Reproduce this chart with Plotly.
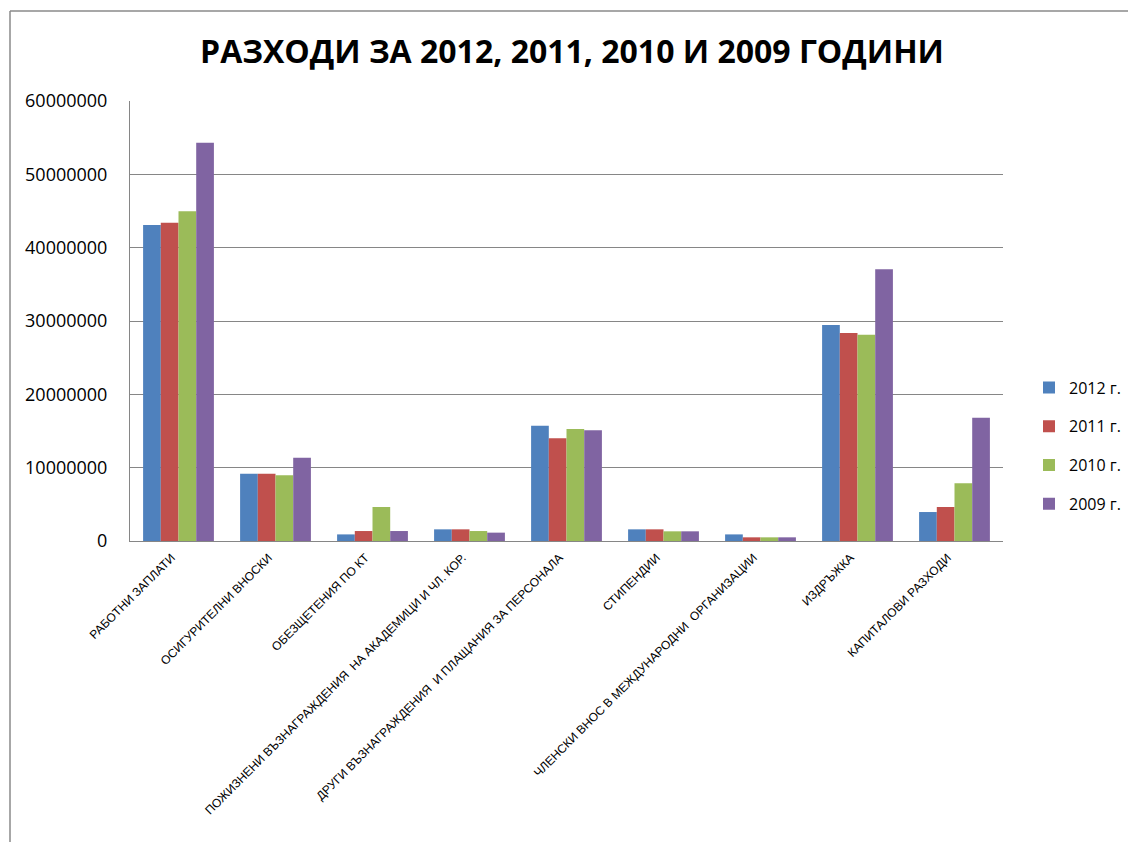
import plotly.graph_objects as go

categories = [
    "РАБОТНИ ЗАПЛАТИ",
    "ОСИГУРИТЕЛНИ ВНОСКИ",
    "ОБЕЗЩЕТЕНИЯ ПО КТ",
    "ПОЖИЗНЕНИ ВЪЗНАГРАЖДЕНИЯ  НА АКАДЕМИЦИ И ЧЛ. КОР.",
    "ДРУГИ ВЪЗНАГРАЖДЕНИЯ  И ПЛАЩАНИЯ ЗА ПЕРСОНАЛА",
    "СТИПЕНДИИ",
    "ЧЛЕНСКИ ВНОС В МЕЖДУНАРОДНИ  ОРГАНИЗАЦИИ",
    "ИЗДРЪЖКА",
    "КАПИТАЛОВИ РАЗХОДИ",
]
years = ["2012 г.", "2011 г.", "2010 г.", "2009 г."]
v2012 = [43100000, 9180000, 900000, 1590000, 15730000, 1590000, 900000, 29450000, 3950000]
v2011 = [43400000, 9180000, 1360000, 1590000, 14000000, 1590000, 500000, 28360000, 4640000]
v2010 = [44950000, 8950000, 4640000, 1360000, 15270000, 1320000, 500000, 28140000, 7860000]
v2009 = [54300000, 11360000, 1360000, 1140000, 15100000, 1320000, 500000, 37050000, 16820000]
series = [v2012, v2011, v2010, v2009]
colors = ["#4F81BD", "#C0504D", "#9BBB59", "#8064A2"]
y_ticks = [0, 10000000, 20000000, 30000000, 40000000, 50000000, 60000000]

fig = go.Figure()
for name, vals, col in zip(years, series, colors):
    fig.add_trace(go.Bar(x=categories, y=vals, name=name, legendgroup=name,
                         marker=dict(color=col, line=dict(width=0))))

W, H = 1128, 842
L, R, T, B = 130, 1003, 101, 541
def px(X):
    return (X - L) / (R - L)
def py(Y):
    return (B - Y) / (B - T)

fig.update_layout(
    width=W, height=H,
    margin=dict(l=L, r=W - R, t=T, b=H - B, autoexpand=False),
    paper_bgcolor="white", plot_bgcolor="white",
    barmode="group", bargap=0.27, bargroupgap=0,
    title=dict(text="<b>РАЗХОДИ ЗА 2012, 2011, 2010 И 2009 ГОДИНИ</b>",
               font=dict(family="Open Sans, sans-serif", size=32, color="black"),
               x=572 / W, xanchor="center", y=1 - 52 / H, yanchor="middle"),
    legend=dict(x=px(1029), xanchor="left", y=py(446), yanchor="middle",
                font=dict(family="Open Sans, sans-serif", size=16, color="black"),
                tracegroupgap=15, itemwidth=30, bgcolor="rgba(0,0,0,0)"),
    font=dict(family="Liberation Sans, Arial, sans-serif", color="black"),
    xaxis=dict(tickangle=-45, tickfont=dict(size=12, family="Liberation Sans, Arial, sans-serif"),
               showline=True, linecolor="#868686", linewidth=1, showgrid=False,
               ticks="", ticklabelshift=-7, ticklabelstandoff=4, automargin=False),
    yaxis=dict(range=[0, 60000000], tickvals=y_ticks, tickformat="d",
               tickfont=dict(size=18, family="Open Sans, sans-serif"),
               showgrid=True, gridcolor="#868686", gridwidth=1,
               showline=True, linecolor="#868686", linewidth=1,
               ticks="", ticklabelstandoff=18, zeroline=False, automargin=False),
    shapes=[
        dict(type="line", xref="paper", yref="paper", x0=px(10), x1=px(1128), y0=py(11), y1=py(11),
             line=dict(color="#8a8a8a", width=1.5)),
        dict(type="line", xref="paper", yref="paper", x0=px(10), x1=px(10), y0=py(11), y1=py(842),
             line=dict(color="#8a8a8a", width=1.5)),
    ],
)

fig.write_html("out.html")
